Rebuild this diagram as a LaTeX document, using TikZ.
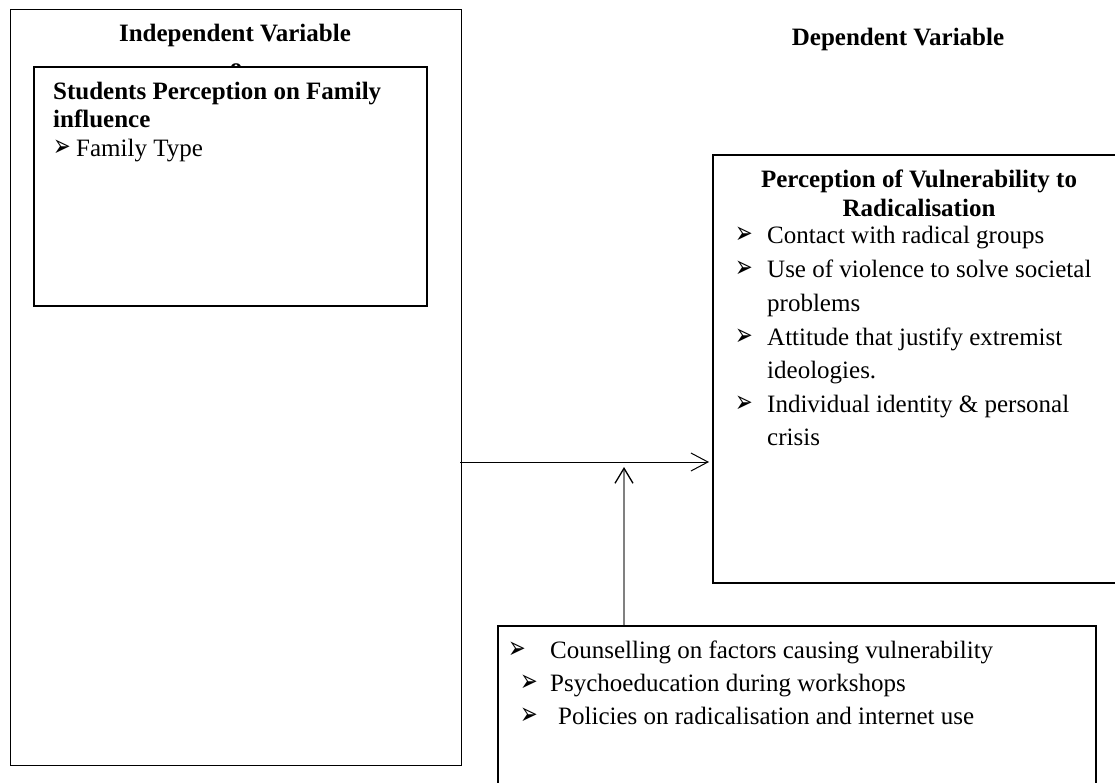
\documentclass[tikz,border=0pt]{standalone}
\usepackage{fontspec}
\usepackage{graphicx}
\setmainfont{Liberation Serif}
\newfontfamily\dejavu{DejaVu Sans}
\usetikzlibrary{arrows.meta}
\newcommand{\barrowglyph}{\scalebox{0.78}[1.15]{\dejavu\fontsize{27}{27}\selectfont ➢}}
\begin{document}
\begin{tikzpicture}[x=1pt,y=-1pt,
  thinbox/.style={draw, line width=1pt, inner sep=0pt, anchor=north west},
  thickbox/.style={draw, fill=white, line width=1.8pt, inner sep=0pt, anchor=north west},
  txt/.style={anchor=base west, inner sep=0pt, font=\fontsize{25}{30}\selectfont},
  btxt/.style={anchor=base west, inner sep=0pt, font=\fontsize{25}{30}\selectfont\bfseries},
  ttl/.style={anchor=base, inner sep=0pt, font=\fontsize{25}{30}\selectfont\bfseries},
  bul/.style={anchor=base west, inner sep=0pt},
  conn/.style={line width=1pt, -{Straight Barb[length=17pt,width=18pt]}},
  vconn/.style={line width=1.3pt, draw=black!50, -{Straight Barb[length=15pt,width=18pt,color=black]}}]
\useasboundingbox (0,0) rectangle (1115,783);
\clip (0,0) rectangle (1115,783);

% left column
\node[thinbox, minimum width=451pt, minimum height=756pt] (iv) at (10,9) {};
\node[ttl] (ivt) at (235,42) {Independent Variable};
\node[ttl] (ivo) at (236,76) {o};
\node[thickbox, minimum width=393pt, minimum height=239pt] (fam) at (33,66) {};
\node[btxt] (f1) at (53,100) {Students Perception on Family};
\node[btxt] (f2) at (53,128) {influence};
\node[bul] (fb) at (53,157) {\barrowglyph};
\node[txt] (f3) at (76,157) {Family Type};

% right column
\node[ttl] (dvt) at (898,46) {Dependent Variable};
\node[thickbox, minimum width=413pt, minimum height=428pt] (dv) at (712,154) {};
\node[ttl] (d1) at (919,188) {Perception of Vulnerability to};
\node[ttl] (d2) at (919,217) {Radicalisation};
\node[bul] (db1) at (735,244) {\barrowglyph};
\node[txt] (d3) at (767,244) {Contact with radical groups};
\node[bul] (db2) at (735,278) {\barrowglyph};
\node[txt] (d4) at (767,278) {Use of violence to solve societal};
\node[txt] (d5) at (767,311.5) {problems};
\node[bul] (db3) at (735,345) {\barrowglyph};
\node[txt] (d6) at (767,345) {Attitude that justify extremist};
\node[txt] (d7) at (767,378.5) {ideologies.};
\node[bul] (db4) at (735,412) {\barrowglyph};
\node[txt] (d8) at (767,412) {Individual identity \& personal};
\node[txt] (d9) at (767,445.5) {crisis};

% bottom box
\node[thickbox, minimum width=598pt, minimum height=200pt] (mod) at (497,625) {};
\node[bul] (mb1) at (508,658) {\barrowglyph};
\node[txt] (m1) at (550,658) {Counselling on factors causing vulnerability};
\node[bul] (mb2) at (520,691) {\barrowglyph};
\node[txt] (m2) at (550,691) {Psychoeducation during workshops};
\node[bul] (mb3) at (520,724) {\barrowglyph};
\node[txt] (m3) at (558,724) {Policies on radicalisation and internet use};

% connectors
\coordinate (hy) at (0,462);
\coordinate (vtip) at (624,467);
\draw[conn] ([xshift=-2pt]iv.east |- hy) -- ([xshift=-3pt]dv.west |- hy);
\draw[vconn] (mod.north -| vtip) -- (vtip);
\end{tikzpicture}
\end{document}
